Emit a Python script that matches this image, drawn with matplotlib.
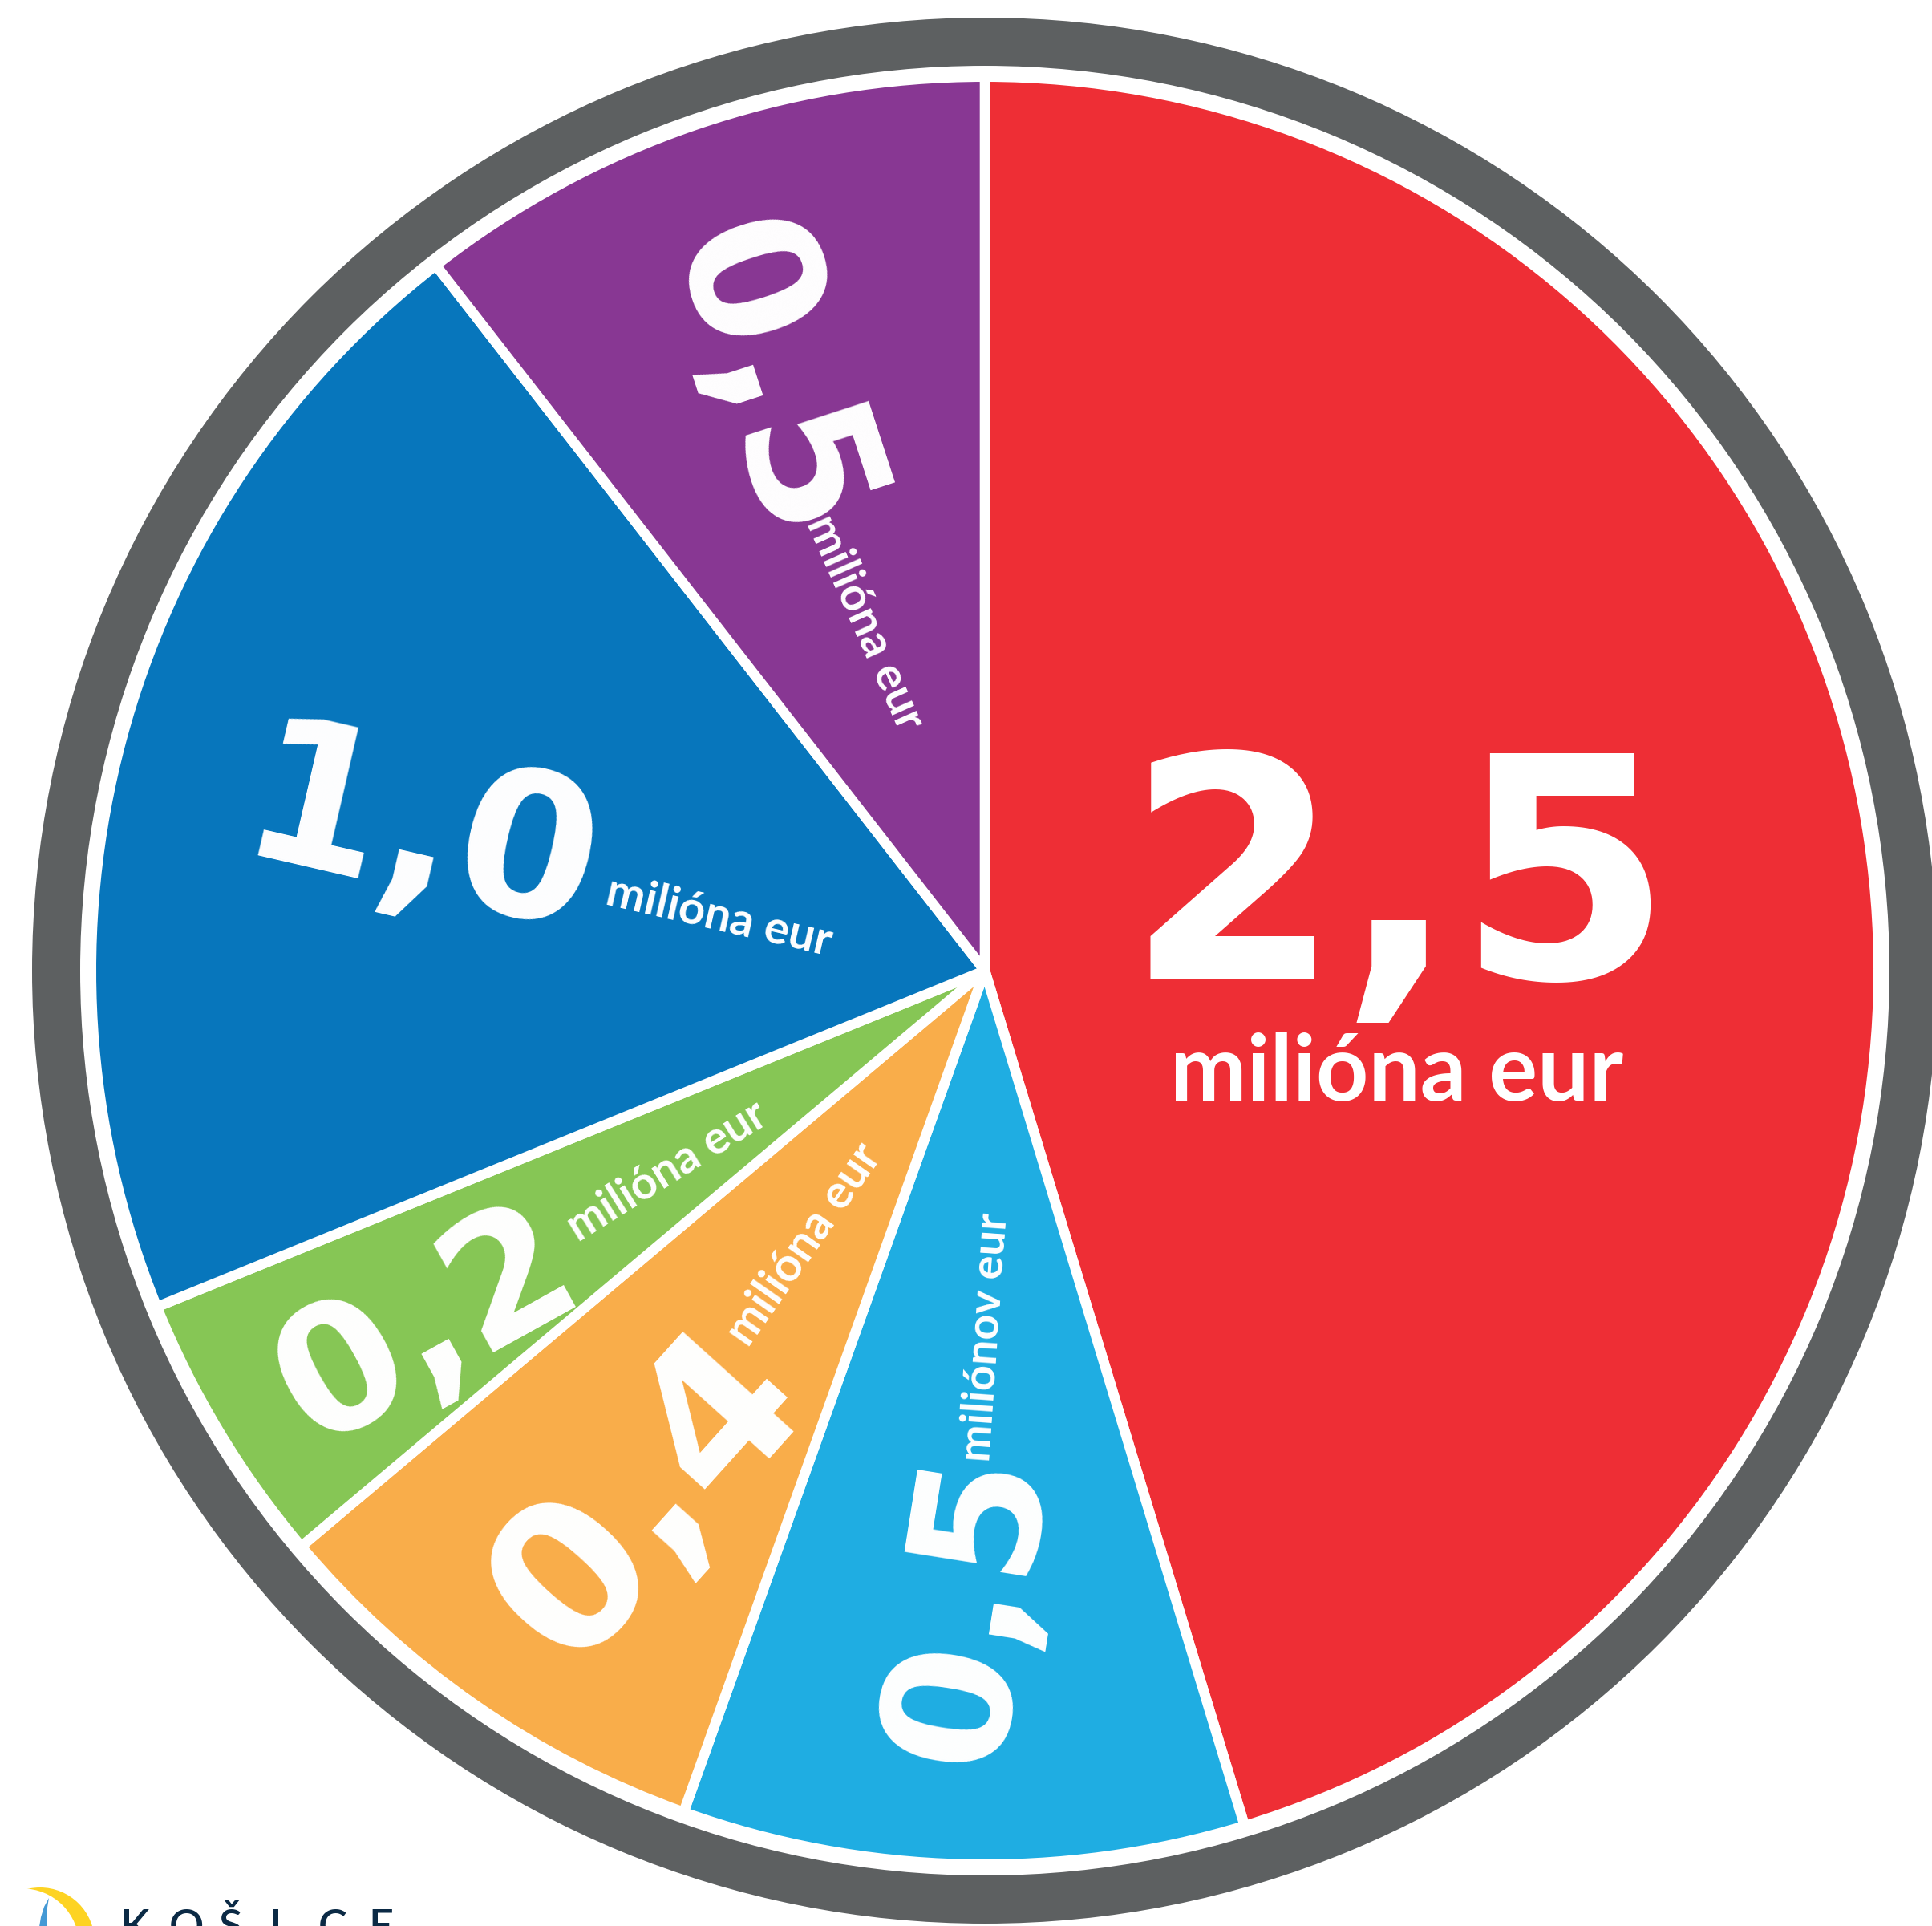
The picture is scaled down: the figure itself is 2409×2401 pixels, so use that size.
import matplotlib
matplotlib.use("Agg")
import matplotlib.pyplot as plt
from matplotlib.patches import Wedge, Circle, Polygon
import numpy as np

# ---------------- data ----------------
values = [2.5, 0.5, 0.4, 0.2, 1.0, 0.5]                      # million EUR
unit_labels = ["milióna eur", "miliónov eur", "milióna eur",
               "milióna eur", "milióna eur", "milióna eur"]
slice_shares = [163.1, 36.6, 30.2, 18.0, 74.2, 37.9]          # slice sizes as drawn (deg)
colors = ["#ee2e35", "#1fade2", "#f9ad4a", "#86c655", "#0776bc", "#883793"]
value_labels = [f"{v:.1f}".replace(".", ",") for v in values]

# ---------------- layout ----------------
W, H = 2409, 2401
CX, CY = 1228, 1210          # pie centre in pixels (from top-left)
R_PIE = 1108
GAP = 12.6                   # white separator width (px)
RING_OUT, RING_W = 1188, 60
GRAY = "#5d6061"
PT = 72 / 100                # px -> pt at dpi 100

# label layout per slice: (radius frac, angle offset from bisector, rotation, em size px)
big_layout = [(0.482, 6.4, 0, 385), (0.714, -1.6, 81, 222), (0.700, 0.3, 48, 255),
              (0.745, 0.0, 29, 222), (0.652, 0.0, -13, 251), (0.705, -0.3, -72, 228)]
small_layout = [(0.476, -21.6, 0, 114), (0.412, 1.0, 86, 56), (0.369, 0.7, 55, 59),
                (0.423, 0.6, 32, 57), (0.305, 2.8, -13, 58), (0.414, -0.55, -66, 58)]
BIG_FONT = ["DejaVu Sans"]
SMALL_FONT = ["Lato", "DejaVu Sans"]

fig = plt.figure(figsize=(W / 100, H / 100), dpi=100)
fig.patch.set_facecolor("white")
ax = fig.add_axes([0, 0, 1, 1])

wedges, _ = ax.pie(slice_shares, colors=colors, startangle=90, counterclock=False,
                   radius=R_PIE + GAP / 2, center=(0, 0),
                   wedgeprops=dict(edgecolor="white", linewidth=GAP * PT, joinstyle="bevel"))

ax.add_patch(Wedge((0, 0), RING_OUT, 0, 360, width=RING_W, facecolor=GRAY, edgecolor="none"))

for i, w in enumerate(wedges):
    mid = 0.5 * (w.theta1 + w.theta2)
    for lay, txt, fam in ((big_layout[i], value_labels[i], BIG_FONT),
                          (small_layout[i], unit_labels[i], SMALL_FONT)):
        rf, dth, rot, size = lay
        a = np.deg2rad(mid + dth)
        r = rf * R_PIE
        ax.text(r * np.cos(a), r * np.sin(a), txt, color="white", fontsize=size * PT,
                family=fam, fontweight="bold", rotation=rot, rotation_mode="anchor",
                ha="center", va="center_baseline")

# ---------------- logo (bottom-left, partly cut) ----------------
def P(x, y):
    return (x - CX, CY - y)

ax.add_patch(Circle(P(50, 2421), 68, facecolor="#fdd323", edgecolor="none", clip_on=False))
ax.add_patch(Circle(P(28, 2425), 70.7, facecolor="white", edgecolor="none", clip_on=False))
ax.add_patch(Polygon([P(61, 2366), P(55, 2377), P(51, 2390), P(49, 2402), P(58, 2402),
                      P(58, 2390), P(59, 2378)], closed=True, facecolor="#4499d5",
                     edgecolor="none", clip_on=False))
for k, ch in enumerate("KOŠICE"):
    x0, y0 = P(149 + 62 * k, 2419)
    ax.text(x0, y0, ch, color="#0b2a45", fontsize=54 * PT, family=["Lato", "DejaVu Sans"],
            fontweight="semibold", ha="left", va="baseline", clip_on=False)

ax.set_xlim(-CX, W - CX)
ax.set_ylim(CY - H, CY)
ax.set_aspect("auto")
ax.axis("off")

fig.savefig("out.png", dpi=100, facecolor="white")
